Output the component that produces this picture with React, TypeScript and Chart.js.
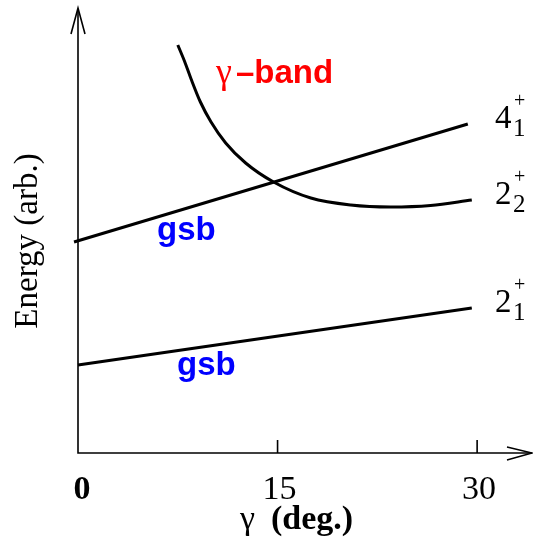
import React, { useEffect, useRef } from "react";
import { Chart, registerables } from "chart.js";

Chart.register(...registerables);

// ---- data ----
const gsbLowX = [0, 29.6];
const gsbLowE = [8.8, 14.5];
const gsbHighX = [-0.3, 29.3];
const gsbHighE = [21.1, 32.9];
const gammaX = [7.5, 8.0, 8.5, 9.2, 10.0, 11.1, 12.6, 14.7, 17.5, 20.5, 23.5, 26.5, 29.6];
const gammaE = [40.8, 39.2, 37.4, 35.1, 33.1, 31.0, 29.0, 27.1, 25.5, 24.8, 24.6, 24.75, 25.3];

const tickValues = [0, 15, 30];
const tickLabels = ["0", "15", "30"];
const xTitleSymbol = "γ";
const xTitleText = "(deg.)";
const yTitle = "Energy (arb.)";

const levelMain = ["2", "2", "4"]; // for datasets: low gsb, gamma band, high gsb
const levelSub = ["1", "2", "1"];
const levelSup = ["+", "+", "+"];

const bandGammaSymbol = "γ";
const bandGammaText = "–band";
const gsbText = "gsb";

const X_MAX = 34.2;
const Y_MAX = 44.5;

const toPts = (xs: number[], ys: number[]) => xs.map((x, i) => ({ x, y: ys[i] }));

const overlay = {
  id: "overlay",
  afterDraw(chart: any) {
    const ctx = chart.ctx;
    const xs = chart.scales.x;
    const ys = chart.scales.y;
    const x0 = xs.getPixelForValue(0);
    const y0 = ys.getPixelForValue(0);
    const yTop = ys.getPixelForValue(Y_MAX);
    const xRight = xs.getPixelForValue(X_MAX);
    ctx.save();
    ctx.strokeStyle = "#000";
    ctx.lineWidth = 1.6;
    ctx.lineCap = "butt";
    // axes
    ctx.beginPath();
    ctx.moveTo(x0, yTop + 1);
    ctx.lineTo(x0, y0);
    ctx.lineTo(xRight - 1, y0);
    ctx.stroke();
    // y arrow
    ctx.beginPath();
    ctx.moveTo(x0 - 7, yTop + 26);
    ctx.lineTo(x0, yTop);
    ctx.lineTo(x0 + 7, yTop + 26);
    ctx.stroke();
    // x arrow
    ctx.beginPath();
    ctx.moveTo(xRight - 26, y0 - 6);
    ctx.lineTo(xRight - 1, y0);
    ctx.lineTo(xRight - 26, y0 + 7);
    ctx.stroke();
    // ticks
    tickValues.forEach((v, i) => {
      const px = xs.getPixelForValue(v);
      if (v !== 0) {
        ctx.beginPath();
        ctx.moveTo(px, y0);
        ctx.lineTo(px, y0 - 13);
        ctx.stroke();
      }
      ctx.fillStyle = "#000";
      ctx.textAlign = "center";
      ctx.textBaseline = "alphabetic";
      ctx.font = (v === 0 ? "bold " : "") + "34px 'Liberation Serif'";
      ctx.fillText(tickLabels[i], px + (v === 0 ? 4 : 2), y0 + 46);
    });
    // x title
    ctx.textAlign = "left";
    ctx.font = "34px 'Liberation Serif'";
    ctx.fillText(xTitleSymbol, 240, y0 + 76);
    ctx.font = "bold 34px 'Liberation Serif'";
    ctx.fillText(xTitleText, 271, y0 + 76);
    // y title
    ctx.save();
    ctx.translate(37, 241);
    ctx.rotate(-Math.PI / 2);
    ctx.textAlign = "center";
    ctx.font = "33px 'Liberation Serif'";
    ctx.fillText(yTitle, 0, 0);
    ctx.restore();

    // level labels at line ends
    const ends = [
      { x: gsbLowX[gsbLowX.length - 1], y: gsbLowE[gsbLowE.length - 1] },
      { x: gammaX[gammaX.length - 1], y: gammaE[gammaE.length - 1] },
      { x: gsbHighX[gsbHighX.length - 1], y: gsbHighE[gsbHighE.length - 1] },
    ];
    ends.forEach((e, i) => {
      const by = ys.getPixelForValue(e.y) + 4;
      const bx = 495;
      ctx.textAlign = "left";
      ctx.fillStyle = "#000";
      ctx.font = "33px 'Liberation Serif'";
      ctx.fillText(levelMain[i], bx, by);
      ctx.font = "25px 'Liberation Serif'";
      ctx.fillText(levelSub[i], bx + 18, by + 8);
      ctx.font = "20px 'Liberation Serif'";
      ctx.fillText(levelSup[i], bx + 19, by - 21);
    });

    // band labels
    ctx.textAlign = "left";
    ctx.fillStyle = "#ff0000";
    ctx.font = "36px 'Liberation Serif'";
    ctx.fillText(bandGammaSymbol, 216, 83);
    ctx.font = "bold 33px 'Liberation Sans'";
    ctx.fillText(bandGammaText, 236, 83);
    ctx.fillStyle = "#0000ff";
    ctx.fillText(gsbText, 157, 240);
    ctx.fillText(gsbText, 177, 375);
    ctx.restore();
  },
};

export default function App() {
  const ref = useRef<HTMLCanvasElement>(null);
  useEffect(() => {
    if (!ref.current) return;
    const line = { borderColor: "#000", borderWidth: 3, pointRadius: 0, fill: false };
    const chart = new Chart(ref.current, {
      type: "scatter",
      data: {
        datasets: [
          { ...line, data: toPts(gsbLowX, gsbLowE), showLine: true, tension: 0 },
          { ...line, data: toPts(gammaX, gammaE), showLine: true, cubicInterpolationMode: "monotone" },
          { ...line, data: toPts(gsbHighX, gsbHighE), showLine: true, tension: 0 },
        ],
      } as any,
      options: {
        animation: false,
        responsive: false,
        clip: false as any,
        layout: { padding: { left: 78, right: 0, top: 8, bottom: 88 } },
        plugins: { legend: { display: false }, tooltip: { enabled: false } },
        scales: {
          x: { type: "linear", min: 0, max: X_MAX, display: false },
          y: { type: "linear", min: 0, max: Y_MAX, display: false },
        },
      },
      plugins: [overlay],
    });
    return () => chart.destroy();
  }, []);
  return (
    <div style={{ position: "fixed", left: 0, top: 0, width: 533, height: 541, background: "#fff" }}>
      <canvas ref={ref} width={533} height={541} style={{ display: "block" }} />
    </div>
  );
}
